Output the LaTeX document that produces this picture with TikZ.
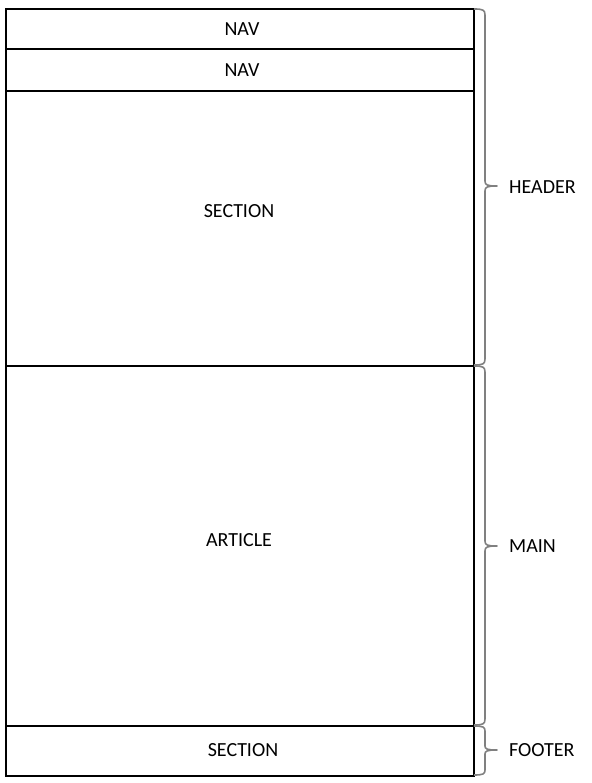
\documentclass[tikz,border=0pt]{standalone}
\usepackage{fontspec}
\setmainfont{Carlito}
\begin{document}
\begin{tikzpicture}[x=1pt,y=-1pt,
  box/.style={draw=black,line width=2pt,minimum width=468pt,inner sep=0pt,anchor=north west},
  txt/.style={font=\fontsize{20}{22}\selectfont,inner sep=0pt},
  brc/.style={draw=black!50,line width=1.6pt,line join=round},
  lbl/.style={font=\fontsize{20}{22}\selectfont,inner sep=0pt,anchor=west}]
\useasboundingbox (0,0) rectangle (591,783);
\node[box,minimum height=40pt] (nav1) at (5,8) {};
\node[box,minimum height=42pt] (nav2) at (5,48) {};
\node[box,minimum height=275pt] (sec) at (5,90) {};
\node[box,minimum height=360pt] (art) at (5,365) {};
\node[box,minimum height=50pt] (foot) at (5,725) {};
\node[txt] (t1) at (242,29) {NAV};
\node[txt] (t2) at (242,70) {NAV};
\node[txt] (t3) at (239,211) {SECTION};
\node[txt] (t4) at (239,540) {ARTICLE};
\node[txt] (t5) at (243,750) {SECTION};
\coordinate (h) at (497,186);
\coordinate (m) at (497,546);
\coordinate (f) at (497,750);
\draw[brc] (474,9) .. controls (483,9) and (485,10) .. (485,15) -- (485,181) .. controls (485,185) and (487,186) .. (h)
  .. controls (487,186) and (485,187) .. (485,191) -- (485,359) .. controls (485,364) and (483,365) .. (474,365);
\draw[brc] (474,366) .. controls (483,366) and (485,367) .. (485,372) -- (485,541) .. controls (485,545) and (487,546) .. (m)
  .. controls (487,546) and (485,547) .. (485,551) -- (485,719) .. controls (485,724) and (483,725) .. (474,725);
\draw[brc] (474,726) .. controls (483,726) and (485,727) .. (485,731) -- (485,746) .. controls (485,749) and (487,750) .. (f)
  .. controls (487,750) and (485,751) .. (485,754) -- (485,770) .. controls (485,774) and (483,775) .. (474,775);
\node[lbl] (lh) at (509,187) {HEADER};
\node[lbl] (lm) at (509,546) {MAIN};
\node[lbl] (lf) at (509,750) {FOOTER};
\end{tikzpicture}
\end{document}
